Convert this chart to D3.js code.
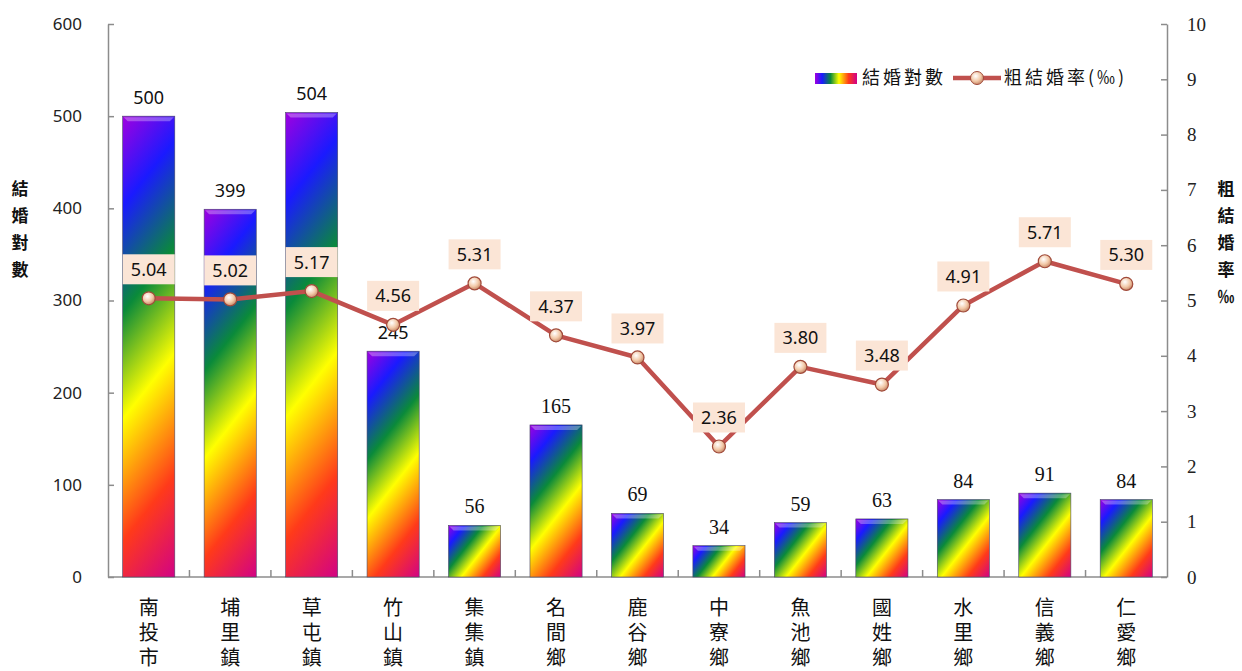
<!DOCTYPE html>
<html>
<head>
<meta charset="utf-8">
<script src="https://cdn.jsdelivr.net/npm/d3@7/dist/d3.min.js"></script>
<style>
  body { margin: 0; background: #fff; }
  svg { display: block; }
  .vert { writing-mode: vertical-rl; text-orientation: upright; }
</style>
</head>
<body>
<div id="chart"></div>
<script>
// data
var towns = ["南投市", "埔里鎮", "草屯鎮", "竹山鎮", "集集鎮", "名間鄉", "鹿谷鄉", "中寮鄉", "魚池鄉", "國姓鄉", "水里鄉", "信義鄉", "仁愛鄉"];
var marriages = [500, 399, 504, 245, 56, 165, 69, 34, 59, 63, 84, 91, 84];
var rates = [5.04, 5.02, 5.17, 4.56, 5.31, 4.37, 3.97, 2.36, 3.80, 3.48, 4.91, 5.71, 5.30];
var leftTicks = [0, 100, 200, 300, 400, 500, 600];
var rightTicks = [0, 1, 2, 3, 4, 5, 6, 7, 8, 9, 10];

var svgWidth = 1242;
var svgHeight = 671;
var margin = { top: 24, right: 75, bottom: 94, left: 108 };
var width = svgWidth - margin.left - margin.right;
var height = svgHeight - margin.top - margin.bottom;

var rainbowStops = [["0", "#a000e0"], ["0.17", "#1a1aff"], ["0.37", "#0a8a3a"], ["0.57", "#ffff00"], ["0.8", "#ff3a1a"], ["1", "#d0008a"]];

var svg = d3.select("#chart").append("svg")
    .attr("width", svgWidth)
    .attr("height", svgHeight);

var defs = svg.append("defs");

var legGrad = defs.append("linearGradient")
    .attr("id", "rainbowH")
    .attr("x1", 0).attr("y1", 0).attr("x2", 1).attr("y2", 0);
rainbowStops.forEach(function(s) {
    legGrad.append("stop").attr("offset", s[0]).attr("stop-color", s[1]);
});

var dot = defs.append("radialGradient")
    .attr("id", "dot")
    .attr("cx", "40%").attr("cy", "35%").attr("r", "65%");
dot.append("stop").attr("offset", "0").attr("stop-color", "#ffffff");
dot.append("stop").attr("offset", "0.6").attr("stop-color", "#f2c9a8");
dot.append("stop").attr("offset", "1").attr("stop-color", "#c98a6a");

var chart = svg.append("g")
    .attr("transform", `translate(${margin.left}, ${margin.top})`);

var xScale = d3.scaleBand()
    .domain(towns)
    .range([0, width])
    .paddingInner(0.36)
    .paddingOuter(0.18);

var yLeft = d3.scaleLinear().domain([0, 600]).range([height, 0]);
var yRight = d3.scaleLinear().domain([0, 10]).range([height, 0]);

// axes
var leftAxis = d3.axisLeft(yLeft).tickValues(leftTicks).tickSizeInner(-6).tickSizeOuter(0).tickPadding(26);
var rightAxis = d3.axisRight(yRight).tickValues(rightTicks).tickSizeInner(-6).tickSizeOuter(0).tickPadding(20);

var gLeft = chart.append("g").call(leftAxis);
gLeft.selectAll("text")
    .attr("font-family", "'Noto Sans', sans-serif")
    .attr("font-size", "17px")
    .attr("fill", "#222");

var gRight = chart.append("g")
    .attr("transform", `translate(${width}, 0)`)
    .call(rightAxis);
gRight.selectAll("text")
    .attr("text-anchor", "start")
    .attr("font-family", "'Liberation Serif', serif")
    .attr("font-size", "19px")
    .attr("fill", "#222");

// bottom line with ticks between towns
chart.append("line")
    .attr("x1", 0).attr("x2", width)
    .attr("y1", height).attr("y2", height);
var step = xScale.step();
var bounds = d3.range(1, towns.length).map(function(i) {
    return xScale(towns[i]) - step * xScale.paddingInner() / 2;
});
chart.selectAll(".xtick")
    .data(bounds)
    .enter()
    .append("line")
    .attr("class", "xtick")
    .attr("x1", d => d).attr("x2", d => d)
    .attr("y1", height).attr("y2", height - 7);

chart.selectAll("line, .domain")
    .attr("stroke", "#8c8c8c")
    .attr("stroke-width", 1.5);

// one gradient per bar, fixed angle, spanning the whole bar
// (userSpaceOnUse = the chart group's coordinates)
var gx = 0.79, gy = 0.62;
marriages.forEach(function(d, i) {
    var x0 = xScale(towns[i]);
    var y0 = yLeft(d);
    var w = xScale.bandwidth();
    var h = height - yLeft(d);
    var p = gx * w + gy * h;
    var g = defs.append("linearGradient")
        .attr("id", "bar" + i)
        .attr("gradientUnits", "userSpaceOnUse")
        .attr("x1", x0).attr("y1", y0)
        .attr("x2", x0 + gx * p).attr("y2", y0 + gy * p);
    rainbowStops.forEach(function(s) {
        g.append("stop").attr("offset", s[0]).attr("stop-color", s[1]);
    });
});

// bars
chart.selectAll(".bar")
    .data(marriages)
    .enter()
    .append("rect")
    .attr("class", "bar")
    .attr("x", (d, i) => xScale(towns[i]))
    .attr("y", d => yLeft(d))
    .attr("width", xScale.bandwidth())
    .attr("height", d => height - yLeft(d))
    .attr("fill", (d, i) => "url(#bar" + i + ")")
    .attr("stroke", "#4a4a6a")
    .attr("stroke-width", 0.6);

// bevel highlight on top edge
chart.selectAll(".bevel")
    .data(marriages)
    .enter()
    .append("path")
    .attr("class", "bevel")
    .attr("d", function(d, i) {
        var x = xScale(towns[i]), y = yLeft(d), w = xScale.bandwidth();
        return `M${x + 1},${y + 1}H${x + w - 1}L${x + w - 5},${y + 5}H${x + 5}Z`;
    })
    .attr("fill", "#ffffff")
    .attr("opacity", 0.3);

chart.selectAll(".barText")
    .data(marriages)
    .enter()
    .append("text")
    .attr("class", "barText")
    .attr("x", (d, i) => xScale(towns[i]) + xScale.bandwidth() / 2)
    .attr("y", d => yLeft(d) - 12)
    .attr("text-anchor", "middle")
    .attr("font-family", d => d > 200 ? "'Noto Sans', sans-serif" : "'Liberation Serif', 'Times New Roman', serif")
    .attr("font-size", d => d > 200 ? "18px" : "20px")
    .attr("fill", "#111")
    .text(d => d);

// rate line
var cx = (d, i) => xScale(towns[i]) + xScale.bandwidth() / 2;
var line = d3.line()
    .x((d, i) => cx(d, i))
    .y(d => yRight(d));

chart.append("path")
    .datum(rates)
    .attr("d", line)
    .attr("fill", "none")
    .attr("stroke", "#c0504d")
    .attr("stroke-width", 4.5)
    .attr("stroke-linejoin", "round");

chart.selectAll(".rateDot")
    .data(rates)
    .enter()
    .append("circle")
    .attr("class", "rateDot")
    .attr("cx", cx)
    .attr("cy", d => yRight(d))
    .attr("r", 6.5)
    .attr("fill", "url(#dot)")
    .attr("stroke", "#a04a3a")
    .attr("stroke-width", 1.2);

var rateLabels = chart.selectAll(".rateLabel")
    .data(rates)
    .enter()
    .append("g")
    .attr("class", "rateLabel")
    .attr("transform", (d, i) => `translate(${cx(d, i)}, ${yRight(d) - 29})`);

rateLabels.append("rect")
    .attr("x", -26).attr("y", -15)
    .attr("width", 52).attr("height", 30)
    .attr("fill", "#fbe5d6");

rateLabels.append("text")
    .attr("text-anchor", "middle")
    .attr("dy", "0.36em")
    .attr("font-family", "'Noto Sans', sans-serif")
    .attr("font-size", "18px")
    .attr("fill", "#111")
    .text(d => d.toFixed(2));

// town names, written top to bottom
chart.selectAll(".town")
    .data(towns)
    .enter()
    .append("text")
    .attr("class", "town vert")
    .attr("x", d => xScale(d) + xScale.bandwidth() / 2)
    .attr("y", height + 20)
    .attr("font-family", "'Noto Sans CJK TC', sans-serif")
    .attr("font-size", "20px")
    .attr("letter-spacing", "5px")
    .attr("fill", "#111")
    .text(d => d);

// axis titles
function verticalTitle(label, x, y0) {
    svg.append("text")
        .attr("class", "vert")
        .attr("x", x)
        .attr("y", y0)
        .attr("font-family", "'Noto Sans CJK TC', sans-serif")
        .attr("font-size", "17px")
        .attr("font-weight", "bold")
        .attr("letter-spacing", "10px")
        .attr("fill", "#111")
        .text(label);
}
verticalTitle("結婚對數", 20, 180);
verticalTitle("粗結婚率‰", 1226, 180);

// legend
var legend = svg.append("g")
    .attr("transform", "translate(815, 78)");

legend.append("rect")
    .attr("x", 0).attr("y", -5)
    .attr("width", 42).attr("height", 11)
    .attr("fill", "url(#rainbowH)");

legend.append("text")
    .attr("x", 47).attr("y", 0)
    .attr("dy", "0.35em")
    .attr("font-family", "'Noto Sans CJK TC', sans-serif")
    .attr("font-size", "18px")
    .attr("letter-spacing", "3px")
    .attr("fill", "#111")
    .text("結婚對數");

legend.append("line")
    .attr("x1", 138).attr("x2", 186)
    .attr("y1", 0).attr("y2", 0)
    .attr("stroke", "#c0504d")
    .attr("stroke-width", 4.5);

legend.append("circle")
    .attr("cx", 162).attr("cy", 0)
    .attr("r", 6.5)
    .attr("fill", "url(#dot)")
    .attr("stroke", "#a04a3a");

legend.append("text")
    .attr("x", 189).attr("y", 0)
    .attr("dy", "0.35em")
    .attr("font-family", "'Noto Sans CJK TC', sans-serif")
    .attr("font-size", "18px")
    .attr("letter-spacing", "3px")
    .attr("fill", "#111")
    .text("粗結婚率(‰)");
</script>
</body>
</html>
